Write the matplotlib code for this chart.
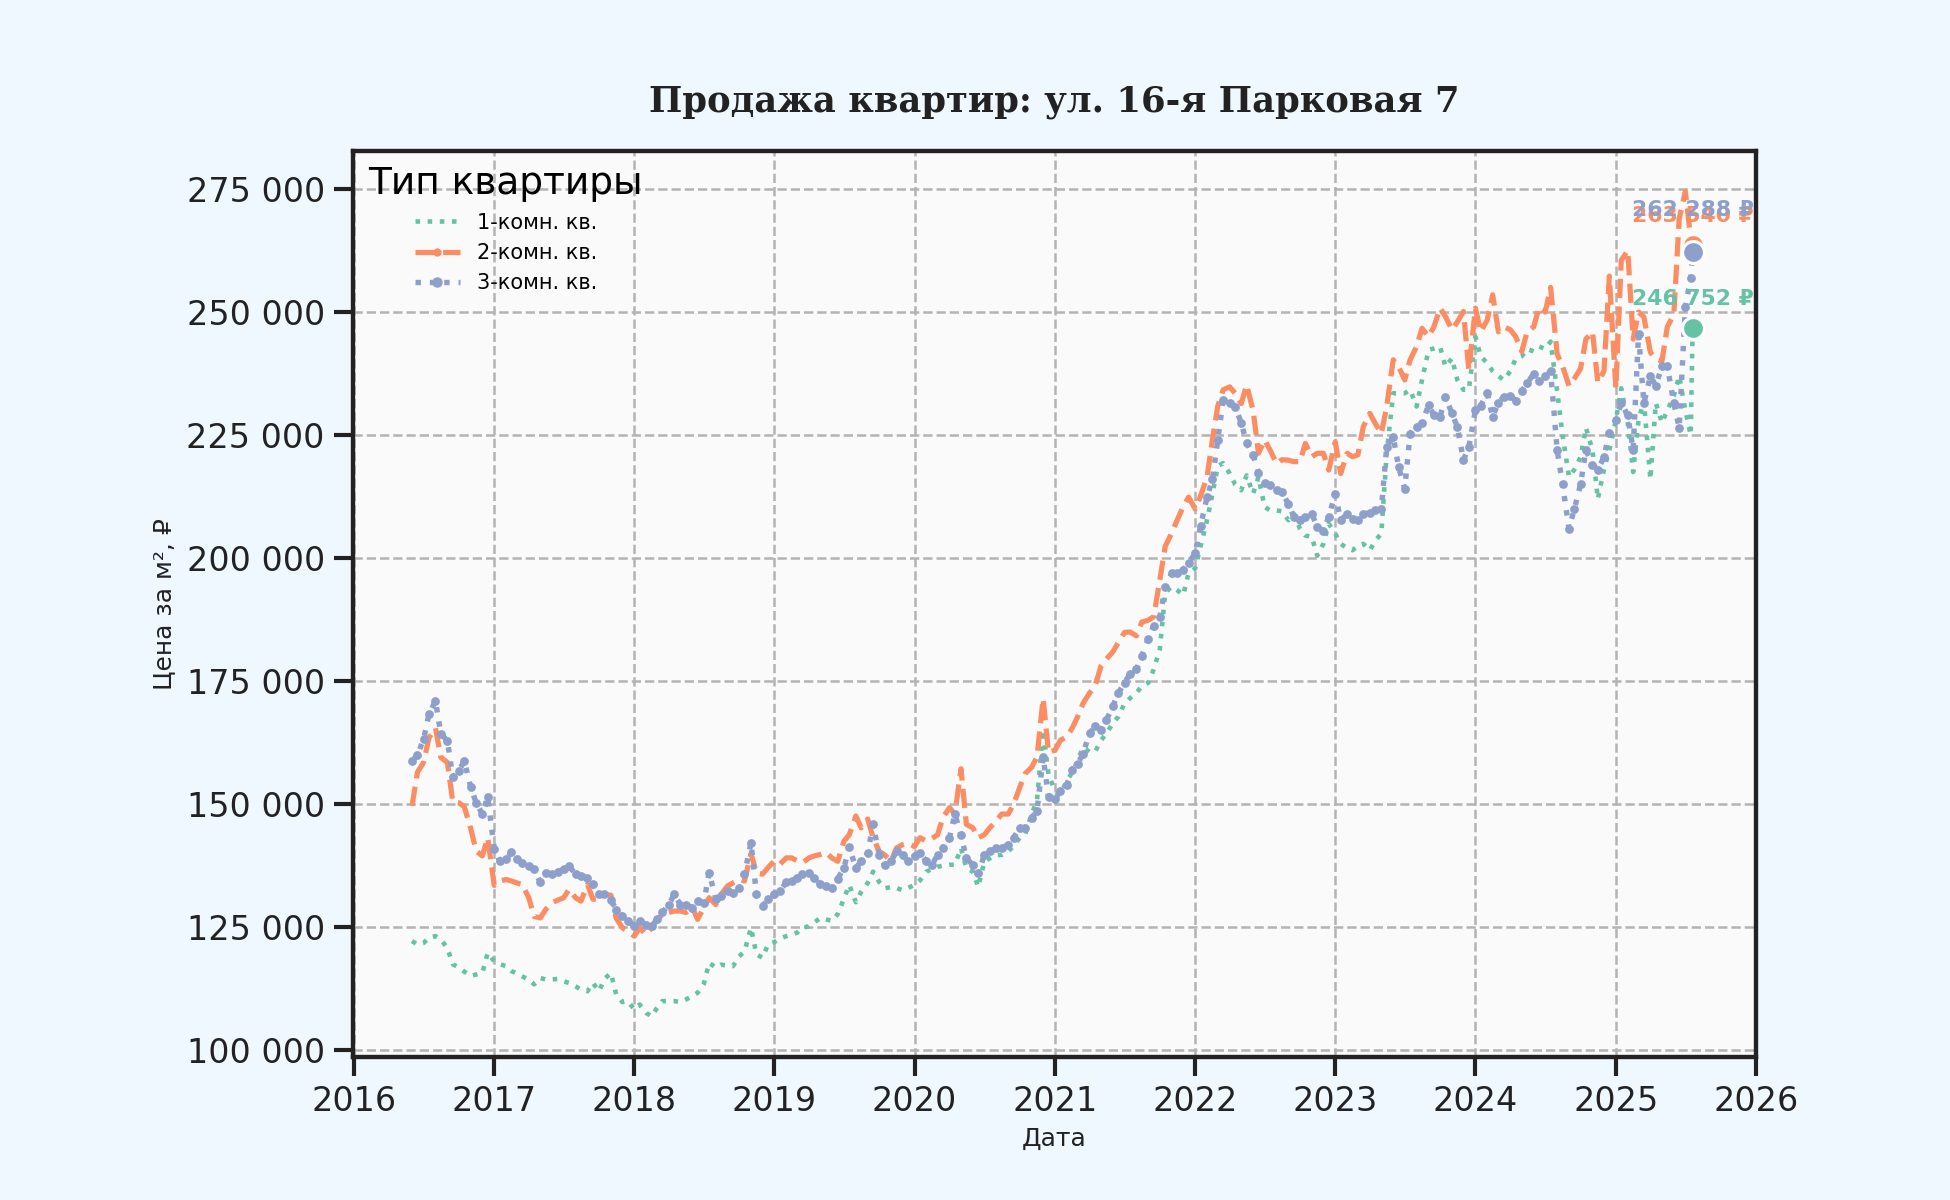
import numpy as np
import pandas as pd
import matplotlib
matplotlib.use("Agg")
import matplotlib.pyplot as plt
import matplotlib.dates as mdates
from matplotlib.ticker import FuncFormatter
from matplotlib.lines import Line2D

# даты: 1-е и 15-е число месяца + последняя точка
dates = pd.date_range("2016-06-01", "2025-07-15", freq="SMS").append(
    pd.DatetimeIndex(["2025-07-20"]))

# цены за м², тыс. руб.
one_room = [
    122.2, 121.5, 121.8, 122.9, 123.2, 122.5, 120.8, 117.5, 116.8, 116.0, 115.1, 115.4, 115.7, 119.8,
    118.1, 117.5, 117.1, 116.1, 115.6, 115.0, 114.4, 113.4, 114.7, 114.4, 114.4, 114.5,
    114.0, 113.7, 113.0, 112.3, 112.0, 113.7, 112.0, 114.5, 115.7, 111.3, 109.8, 110.0,
    108.3, 109.3, 107.6, 106.9, 108.6, 110.0, 110.0, 110.0, 109.8, 110.3, 111.0, 111.7,
    113.5, 117.8, 116.8, 117.4, 117.2, 117.1, 119.1, 120.1, 124.9, 119.5, 118.8, 121.5,
    122.0, 122.7, 123.2, 123.5, 123.9, 124.9, 125.2, 126.0, 126.9, 126.6, 126.3, 127.7,
    130.8, 133.6, 130.1, 132.2, 134.0, 136.3, 134.2, 132.9, 133.2, 133.0, 132.5, 133.0,
    133.6, 134.5, 136.3, 136.8, 137.3, 137.5, 137.7, 137.7, 141.1, 137.0, 136.3, 133.2,
    138.4, 139.0, 139.7, 139.7, 140.4, 141.5, 143.2, 143.8, 148.0, 150.7, 165.1, 156.0,
    152.7, 152.0, 154.8, 156.5, 158.9, 161.6, 160.6, 160.6, 163.0, 164.4, 166.5, 167.8,
    170.5, 171.5, 172.6, 174.0, 174.7, 177.4, 181.5, 193.0, 194.2, 193.5, 192.5, 197.0,
    197.9, 202.4, 207.7, 213.0, 218.7, 219.3, 217.2, 215.0, 213.8, 216.8, 213.1, 216.5,
    210.4, 209.7, 209.7, 209.5, 207.7, 209.0, 206.0, 204.6, 204.3, 200.5, 202.9, 207.0,
    205.0, 202.9, 202.0, 201.6, 202.5, 202.9, 201.6, 203.5, 205.0, 221.3, 233.5, 233.5,
    233.5, 234.2, 230.8, 236.2, 242.3, 242.6, 243.0, 238.9, 240.6, 236.2, 234.2, 234.2,
    245.0, 241.0, 239.6, 238.0, 237.0, 236.2, 238.0, 240.5, 241.0, 242.5, 242.0, 243.0,
    242.5, 244.0, 234.0, 225.0, 216.5, 218.0, 220.5, 226.5, 222.0, 212.0, 218.0, 222.0,
    228.0, 234.5, 227.5, 217.5, 228.0, 232.0, 216.0, 231.5, 227.5, 230.0, 233.0, 237.0, 230.0, 225.0,
    246.752,
]
two_room = [
    149.7, 156.5, 158.5, 163.5, 165.5, 159.5, 158.5, 150.5, 150.3, 149.5, 145.0, 140.5, 139.5, 143.2,
    133.5, 134.4, 134.7, 134.4, 134.0, 133.7, 131.0, 127.2, 126.9, 128.6, 130.0, 130.5,
    131.0, 132.7, 131.0, 130.3, 133.7, 130.7, 130.7, 131.7, 131.5, 126.8, 124.9, 124.2,
    123.2, 124.9, 123.5, 124.9, 126.5, 127.6, 128.0, 128.3, 128.3, 128.0, 129.0, 126.6,
    129.0, 131.0, 129.6, 131.7, 133.4, 134.0, 134.7, 134.4, 140.0, 136.0, 135.8, 137.1,
    138.5, 137.8, 139.1, 139.1, 138.5, 138.1, 139.1, 139.5, 139.8, 140.2, 139.0, 138.4,
    142.5, 143.8, 147.6, 145.2, 147.0, 143.2, 140.4, 139.7, 138.4, 141.1, 141.8, 142.1,
    141.4, 143.2, 142.5, 143.0, 143.8, 147.3, 149.3, 148.0, 157.2, 145.9, 145.2, 143.2,
    143.8, 145.2, 146.6, 148.0, 148.0, 150.0, 153.4, 156.2, 157.5, 159.6, 171.5, 160.5,
    161.0, 163.0, 163.7, 165.5, 167.8, 170.5, 172.6, 174.0, 178.1, 179.5, 181.0, 182.9,
    184.9, 185.0, 184.2, 187.0, 187.4, 188.1, 195.6, 202.4, 205.1, 207.7, 210.5, 212.4,
    210.0, 212.6, 216.5, 224.1, 230.9, 234.2, 234.8, 233.5, 231.4, 235.2, 230.0, 221.3,
    224.0, 222.0, 219.2, 220.0, 219.9, 219.6, 219.6, 223.3, 220.6, 221.3, 221.3, 217.9,
    223.6, 217.2, 221.3, 220.6, 221.0, 226.7, 229.4, 227.4, 225.3, 230.8, 240.3, 238.9,
    236.2, 240.3, 243.0, 246.7, 245.0, 247.0, 250.8, 249.1, 246.4, 248.0, 250.1, 238.2,
    250.8, 246.0, 248.4, 253.5, 246.0, 247.0, 246.4, 245.0, 242.0, 246.0, 247.0, 251.0,
    250.0, 255.0, 241.5, 239.0, 235.0, 236.5, 238.5, 244.5, 246.0, 235.7, 238.0, 257.3,
    234.5, 260.5, 262.5, 244.5, 250.0, 249.0, 241.8, 240.5, 240.0, 247.0, 249.5, 269.0, 274.5, 265.0,
    263.540,
]
three_room = [
    158.8, 160.0, 163.2, 168.3, 171.0, 164.3, 162.9, 155.5, 156.8, 158.8, 153.4, 150.3, 148.0, 151.5,
    141.0, 138.5, 138.8, 140.2, 138.8, 138.1, 137.5, 136.8, 134.1, 136.1, 135.8, 136.3,
    136.8, 137.4, 135.8, 135.4, 135.1, 133.7, 131.7, 131.7, 130.5, 128.6, 127.3, 126.3,
    125.2, 126.3, 125.5, 125.2, 126.6, 128.0, 129.6, 131.7, 129.6, 129.6, 129.0, 130.3,
    130.0, 136.1, 130.8, 131.3, 132.4, 132.0, 133.0, 135.8, 142.2, 131.7, 129.3, 130.7,
    131.7, 132.4, 134.1, 134.4, 135.1, 135.8, 136.1, 135.0, 133.7, 133.4, 133.0, 134.9,
    137.0, 141.4, 137.0, 138.4, 140.1, 145.9, 139.7, 137.7, 138.4, 140.4, 139.7, 138.4,
    139.5, 140.1, 138.4, 137.7, 139.7, 141.1, 143.2, 148.0, 143.8, 139.0, 137.7, 136.0,
    139.7, 140.4, 141.1, 141.1, 141.8, 143.2, 145.2, 145.2, 147.3, 148.6, 159.6, 151.4,
    151.0, 152.7, 154.0, 157.0, 158.2, 160.3, 164.4, 165.8, 165.1, 167.1, 170.0, 172.6,
    174.7, 176.4, 177.4, 180.1, 183.6, 186.3, 188.0, 194.2, 196.9, 196.9, 197.6, 199.0,
    201.0, 206.5, 212.4, 216.0, 224.1, 232.1, 231.6, 230.8, 227.5, 223.4, 221.0, 217.3,
    215.3, 214.8, 213.8, 213.5, 211.0, 208.4, 207.7, 208.4, 209.0, 206.3, 205.5, 208.4,
    213.1, 207.7, 209.0, 208.0, 207.7, 209.0, 209.2, 209.7, 210.0, 222.6, 224.7, 218.5,
    214.1, 225.3, 226.7, 227.4, 231.1, 229.0, 228.7, 232.8, 229.4, 226.7, 219.9, 222.6,
    230.0, 231.0, 233.5, 228.7, 231.6, 232.8, 233.0, 232.0, 234.0, 235.5, 237.5, 236.0,
    237.0, 238.0, 222.0, 215.0, 206.0, 210.0, 215.0, 222.0, 219.0, 218.0, 220.5, 225.5,
    228.0, 231.5, 229.0, 222.0, 245.5, 231.5, 237.0, 235.0, 239.0, 239.0, 231.5, 226.5, 251.0, 257.0,
    262.288,
]

labels = ["1-комн. кв.", "2-комн. кв.", "3-комн. кв."]
colors = ["#66c2a5", "#fc8d62", "#8da0cb"]


def rub(x, pos=None):
    return f"{x:,.0f}".replace(",", " ")


fig = plt.figure(figsize=(13, 8), dpi=150, facecolor="#f0f8ff")
ax = fig.add_axes([0.181, 0.119, 0.7195, 0.7555])
ax.set_facecolor("#fafafa")

series = [np.array(one_room) * 1000, np.array(two_room) * 1000, np.array(three_room) * 1000]
styles = [
    dict(linestyle=":", linewidth=2.2),
    dict(linestyle="--", linewidth=2.5),
    dict(linestyle=":", linewidth=2.6, marker="o", markersize=3.2),
]
offsets = [14, 14, 20]

for vals, lab, col, st in zip(series, labels, colors, styles):
    ax.plot(dates, vals, color=col, label=lab, **st)

for vals, col, off in zip(series, colors, offsets):
    ax.scatter(dates[-1], vals[-1], s=110, color=col, edgecolor="white",
               linewidth=1.5, zorder=5)
    ax.annotate(f"{rub(vals[-1])} ₽", (dates[-1], vals[-1]), xytext=(0, off),
                textcoords="offset points", ha="center", va="center",
                fontsize=10.5, fontweight="bold", color=col, zorder=6)

ax.set_xlim(pd.Timestamp("2015-12-30"), pd.Timestamp("2026-01-01"))
ax.set_ylim(98600, 282800)
ax.xaxis.set_major_locator(mdates.YearLocator())
ax.xaxis.set_major_formatter(mdates.DateFormatter("%Y"))
ax.yaxis.set_major_formatter(FuncFormatter(rub))

ax.grid(True, linestyle="--", color="#b3b3b3", linewidth=1.2)
ax.set_axisbelow(True)
for sp in ax.spines.values():
    sp.set_linewidth(2.1)
    sp.set_color("#222222")
ax.tick_params(axis="both", labelsize=16, colors="#222222", length=9, width=2, pad=4.5)

ax.set_title("Продажа квартир: ул. 16-я Парковая 7", fontsize=17, fontweight="bold",
             family="DejaVu Serif", color="#222222", pad=19)
ax.set_xlabel("Дата", fontsize=12, color="#222222")
ax.set_ylabel("Цена за м², ₽", fontsize=12, color="#222222", labelpad=5)

handles = [
    Line2D([], [], color=colors[0], linestyle=":", linewidth=2.2),
    Line2D([], [], color=colors[1], linestyle="--", linewidth=2.5, marker="o", markersize=3),
    Line2D([], [], color=colors[2], linestyle=":", linewidth=2.6, marker="o", markersize=4),
]
ax.legend(handles, labels, title="Тип квартиры", loc="upper left", frameon=False,
          fontsize=10, title_fontsize=18, handlelength=2.2, handletextpad=0.8,
          labelspacing=0.5, borderaxespad=0.35)

fig.savefig("out.png", dpi=150, facecolor=fig.get_facecolor())
